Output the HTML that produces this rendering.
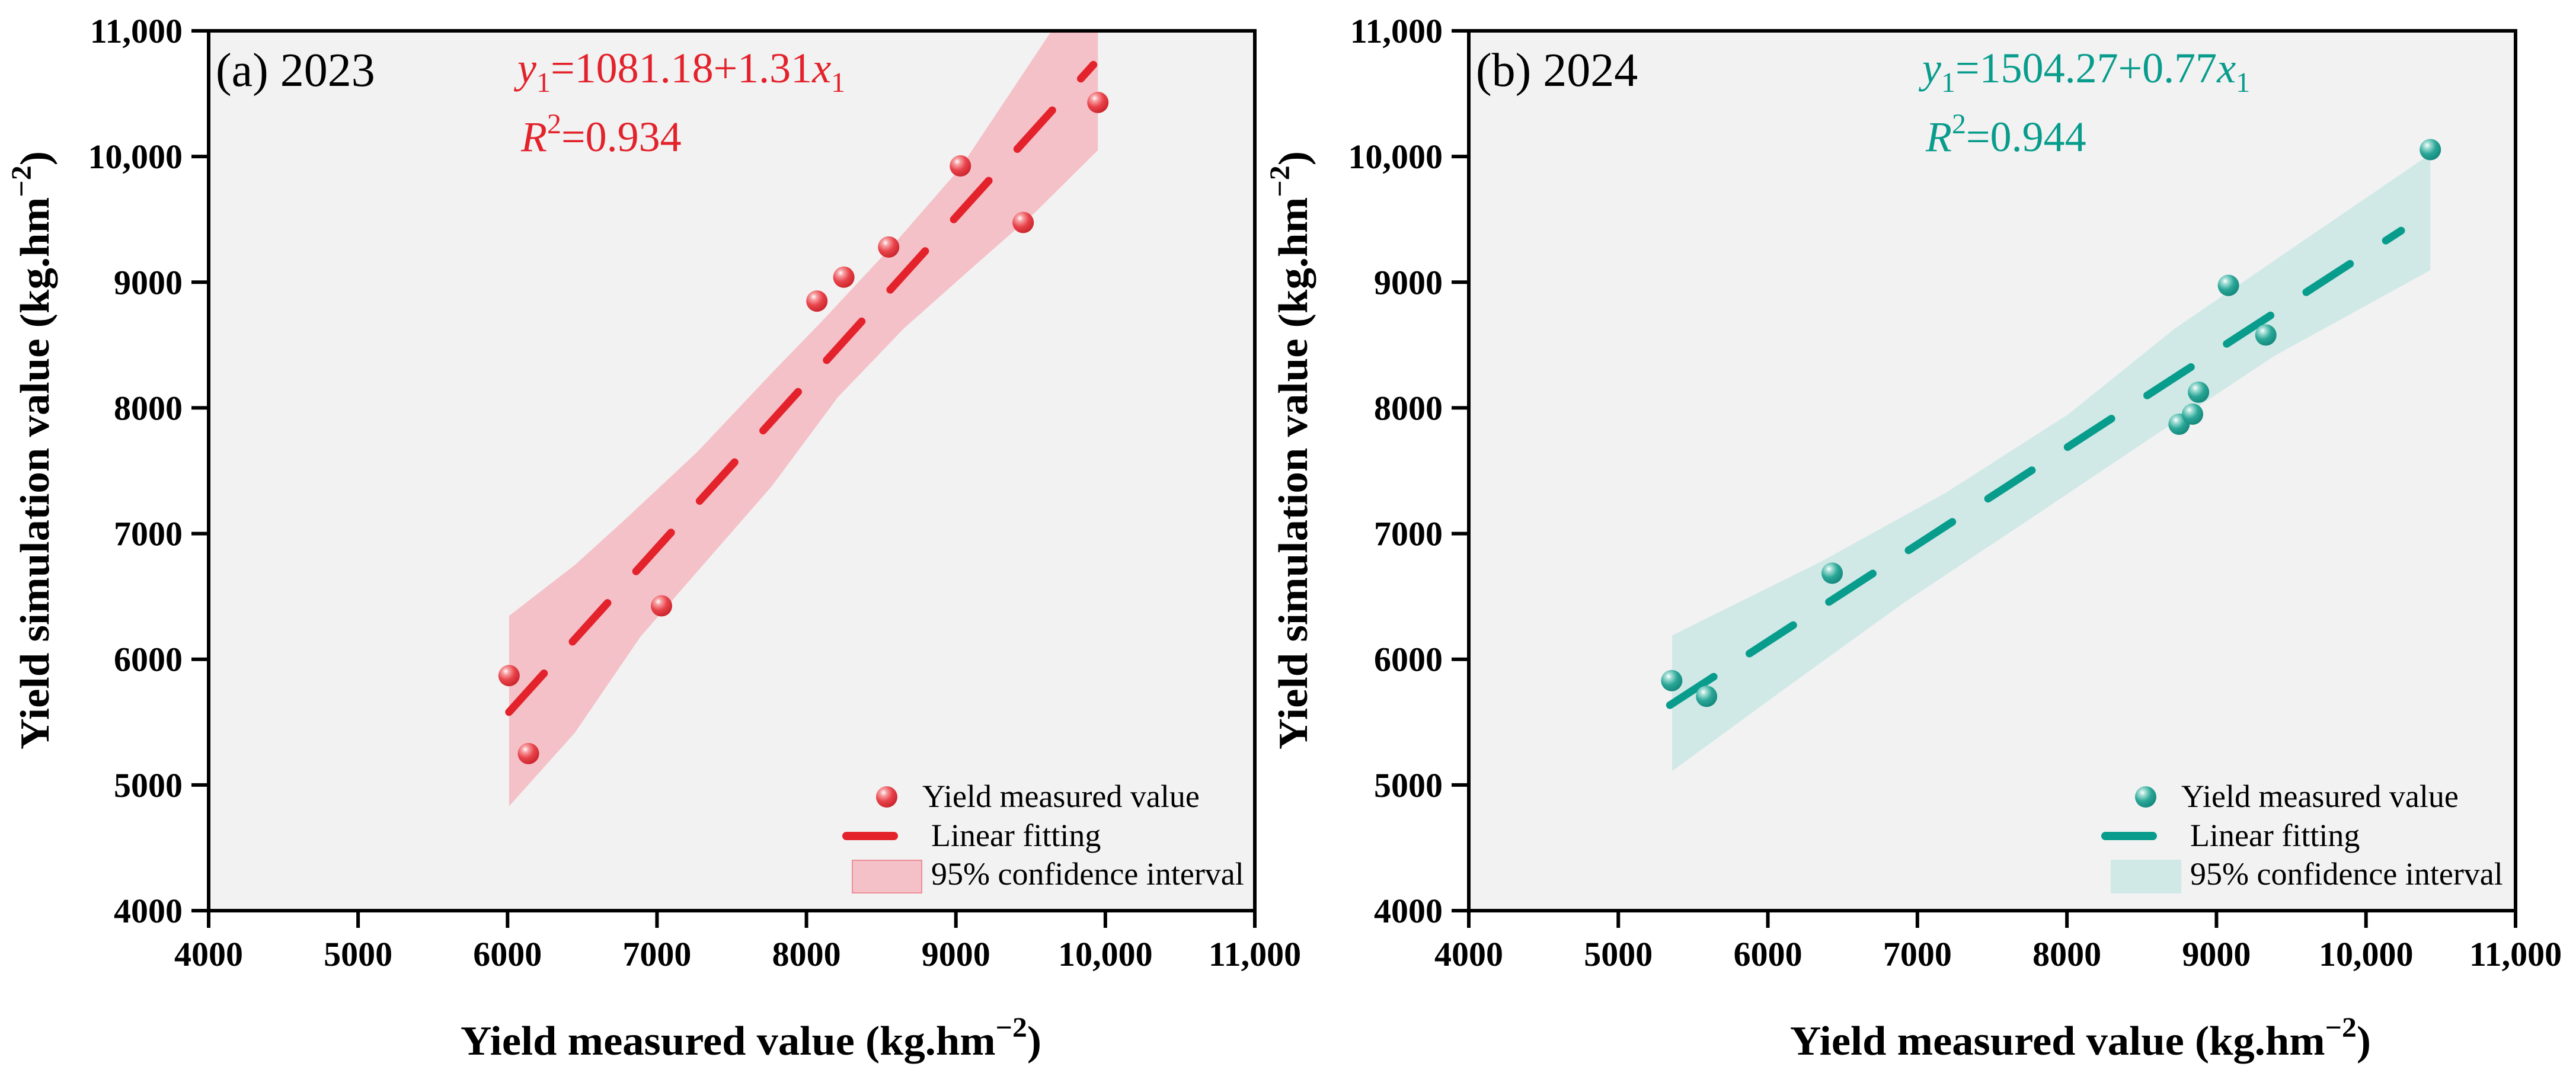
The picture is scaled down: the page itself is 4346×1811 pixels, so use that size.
<!DOCTYPE html>
<html><head><meta charset="utf-8"><style>
html,body{margin:0;padding:0;background:#fff}
svg{display:block;font-family:"Liberation Serif","Times New Roman",serif}
</style></head><body>
<svg id="chart" width="4346" height="1811" viewBox="0 0 4346 1811" xmlns="http://www.w3.org/2000/svg">
<defs>
<radialGradient id="ballRed" cx="0.35" cy="0.3" r="0.75">
<stop offset="0" stop-color="#ffffff"/><stop offset="0.2" stop-color="#f7a0a3"/><stop offset="0.55" stop-color="#e8434a"/><stop offset="1" stop-color="#c8232b"/>
</radialGradient>
<radialGradient id="ballTeal" cx="0.35" cy="0.3" r="0.75">
<stop offset="0" stop-color="#ffffff"/><stop offset="0.2" stop-color="#9fdcd3"/><stop offset="0.55" stop-color="#2aa697"/><stop offset="1" stop-color="#13867a"/>
</radialGradient>
</defs>
</svg>
<script>
// ---- Panel (a) 2023 data ----
const aMeasured = [6010, 6140, 7030, 8070, 8250, 8550, 9030, 9450, 9950];
const aSimulated = [5870, 5250, 6425, 8850, 9040, 9280, 9925, 9475, 10430];
const aFitX = [6010, 9920];
const aFitY = [5580, 10730];
const aUpperX = [6010, 6450, 6780, 7270, 7770, 8100, 8590, 9030, 9640, 9950];
const aUpperY = [6345, 6750, 7105, 7650, 8280, 8685, 9310, 9910, 11000, 11000];
const aLowerX = [6010, 6450, 6890, 7330, 7770, 8210, 8650, 9090, 9530, 9950];
const aLowerY = [4830, 5415, 6180, 6780, 7380, 8085, 8630, 9095, 9555, 10050];
// ---- Panel (b) 2024 data ----
const bMeasured = [5357, 5590, 6430, 8750, 8840, 8880, 9080, 9330, 10430];
const bSimulated = [5830, 5705, 6685, 7870, 7950, 8125, 8975, 8580, 10055];
const bFitX = [5345, 10235];
const bFitY = [5635, 9410];
const bUpperX = [5360, 6360, 7190, 8010, 8720, 9390, 10430];
const bUpperY = [6190, 6780, 7325, 7950, 8630, 9175, 10020];
const bLowerX = [5360, 6090, 6910, 7740, 8560, 9390, 10430];
const bLowerY = [5110, 5745, 6450, 7105, 7760, 8415, 9095];
// ---- axes ----
const xTicks = [4000, 5000, 6000, 7000, 8000, 9000, 10000, 11000];
const yTicks = [4000, 5000, 6000, 7000, 8000, 9000, 10000, 11000];
const tickLabels = ["4000", "5000", "6000", "7000", "8000", "9000", "10,000", "11,000"];

const NS = "http://www.w3.org/2000/svg";
const svg = document.getElementById("chart");
function mk(tag, attrs, parent, text) {
  const e = document.createElementNS(NS, tag);
  for (const k in attrs) e.setAttribute(k, attrs[k]);
  if (text !== undefined) e.textContent = text;
  (parent || svg).appendChild(e);
  return e;
}

function panel(cfg) {
  const g = mk("g", {});
  
  
  const L = cfg.left, R = cfg.right, T = 52, B = 1537;
  const sx = v => L + (v - 4000) / 7000 * (R - L);
  const sy = v => B - (v - 4000) / 7000 * (B - T);
  const bg = mk("rect", {x: L, y: T, width: R - L, height: B - T, fill: "#f2f2f2"}, g);
  
  
  const clip = mk("clipPath", {id: cfg.name + "-clip"}, g);
  mk("rect", {x: L, y: T, width: R - L, height: B - T}, clip);
  const plot = mk("g", {"clip-path": "url(#" + cfg.name + "-clip)"}, g);
  // band
  let pts = [];
  for (let i = 0; i < cfg.ux.length; i++) pts.push(sx(cfg.ux[i]) + "," + sy(cfg.uy[i]));
  for (let i = cfg.lx.length - 1; i >= 0; i--) pts.push(sx(cfg.lx[i]) + "," + sy(cfg.ly[i]));
  const band = mk("polygon", {points: pts.join(" "), fill: cfg.band}, plot);
  
  
  // fit line
  const fit = mk("line", {x1: sx(cfg.fx[0]), y1: sy(cfg.fy[0]), x2: sx(cfg.fx[1]), y2: sy(cfg.fy[1]),
    stroke: cfg.line, "stroke-width": 13, "stroke-dasharray": "88 72", "stroke-linecap": "round"}, plot);
  
  
  // points
  for (let i = 0; i < cfg.px.length; i++) {
    const c = mk("circle", {cx: sx(cfg.px[i]), cy: sy(cfg.py[i]), r: 18, fill: cfg.ball}, g);
    
    
  }
  // frame
  const fr = mk("rect", {x: L, y: T, width: R - L, height: B - T, fill: "none", stroke: "#000", "stroke-width": 6}, g);
  
  
  // ticks
  for (let i = 0; i < xTicks.length; i++) {
    const x = sx(xTicks[i]);
    mk("line", {x1: x, y1: B, x2: x, y2: B + 29, stroke: "#000", "stroke-width": 6}, g);
    const t = mk("text", {x: x, y: 1630, "text-anchor": "middle", "font-size": 58, "font-weight": "bold"}, g, tickLabels[i]);
    
    
  }
  for (let i = 0; i < yTicks.length; i++) {
    const y = sy(yTicks[i]);
    mk("line", {x1: L - 29, y1: y, x2: L, y2: y, stroke: "#000", "stroke-width": 6}, g);
    const t = mk("text", {x: L - 44, y: y + 20, "text-anchor": "end", "font-size": 58, "font-weight": "bold"}, g, tickLabels[i]);
    
    
  }
  // axis titles
  const xt = mk("text", {x: cfg.xtX, y: 1780, "font-size": 70, "font-weight": "bold", textLength: 980, lengthAdjust: "spacingAndGlyphs"}, g);
  
  
  mk("tspan", {}, xt, "Yield measured value (kg.hm");
  mk("tspan", {dy: -30, "font-size": 48}, xt, "\u22122");
  mk("tspan", {dy: 30}, xt, ")");
  const yt = mk("text", {x: 0, y: 0, "font-size": 70, "font-weight": "bold", "text-anchor": "middle", textLength: 1010, lengthAdjust: "spacingAndGlyphs",
    transform: "translate(" + cfg.ytX + ",760) rotate(-90)"}, g);
  
  
  mk("tspan", {}, yt, "Yield simulation value (kg.hm");
  mk("tspan", {dy: -30, "font-size": 48}, yt, "\u22122");
  mk("tspan", {dy: 30}, yt, ")");
  // panel label
  const pl = mk("text", {x: L + 12, y: 145, "font-size": 80}, g, cfg.label);
  
  
  // equation
  const eq = mk("text", {x: cfg.eqX, y: 139, "font-size": 72, fill: cfg.text}, g);
  
  
  mk("tspan", {"font-style": "italic"}, eq, "y");
  mk("tspan", {dy: 16, "font-size": 48}, eq, "1");
  mk("tspan", {dy: -16}, eq, cfg.eq);
  mk("tspan", {"font-style": "italic"}, eq, "x");
  mk("tspan", {dy: 16, "font-size": 48}, eq, "1");
  const r2 = mk("text", {x: cfg.eqX + 6, y: 255, "font-size": 72, fill: cfg.text}, g);
  
  
  mk("tspan", {"font-style": "italic"}, r2, "R");
  mk("tspan", {dy: -30, "font-size": 48}, r2, "2");
  mk("tspan", {dy: 30}, r2, cfg.r2);
  // legend
  const lg = mk("g", {}, g);
  
  
  const o = cfg.legX;
  const m = mk("circle", {cx: o + 68, cy: 1345, r: 18, fill: cfg.ball}, lg);
  
  
  mk("text", {x: o + 128, y: 1362, "font-size": 54}, lg, "Yield measured value");
  const ll = mk("line", {x1: o, y1: 1411, x2: o + 80, y2: 1411, stroke: cfg.line, "stroke-width": 14, "stroke-linecap": "round"}, lg);
  
  
  mk("text", {x: o + 143, y: 1428, "font-size": 54}, lg, "Linear fitting");
  const lr = mk("rect", {x: o + 10, y: 1452, width: 117, height: 55, fill: cfg.band, stroke: cfg.bandEdge, "stroke-width": 2}, lg);
  
  
  mk("text", {x: o + 143, y: 1493, "font-size": 54}, lg, "95% confidence interval");
}

panel({name: "panel-2023", left: 352, right: 2117, px: aMeasured, py: aSimulated, fx: aFitX, fy: aFitY,
  ux: aUpperX, uy: aUpperY, lx: aLowerX, ly: aLowerY, band: "#f4c1c8", bandEdge: "#ee8e98", line: "#e3222b",
  ball: "url(#ballRed)", text: "#e3222b", label: "(a) 2023", eq: "=1081.18+1.31", r2: "=0.934",
  eqX: 873, xtX: 777, ytX: 82, legX: 1428});
panel({name: "panel-2024", left: 2478, right: 4244, px: bMeasured, py: bSimulated, fx: bFitX, fy: bFitY,
  ux: bUpperX, uy: bUpperY, lx: bLowerX, ly: bLowerY, band: "#d0e9e7", bandEdge: "#d0e9e7", line: "#089c8c",
  ball: "url(#ballTeal)", text: "#089c8c", label: "(b) 2024", eq: "=1504.27+0.77", r2: "=0.944",
  eqX: 3243, xtX: 3020, ytX: 2205, legX: 3552});
</script>
</body></html>
